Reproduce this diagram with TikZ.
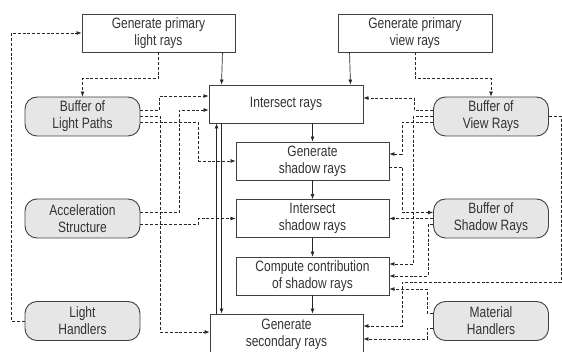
\documentclass[tikz,border=0pt]{standalone}
\usepackage{fontspec}
\setmainfont[FakeStretch=0.8]{Liberation Sans}
\usetikzlibrary{arrows.meta}

\definecolor{edgegray}{HTML}{404040}
\definecolor{buffill}{HTML}{E6E6E6}
\definecolor{txtgray}{HTML}{333333}

\begin{document}
\begin{tikzpicture}[x=1pt,y=-1pt,
    font=\fontsize{15}{17}\selectfont,
    stage/.style={draw=edgegray,line width=0.9pt,rectangle,minimum height=38pt,
        inner sep=0pt,align=center,text=txtgray},
    buffer/.style={draw=edgegray,line width=0.9pt,rounded corners=12pt,fill=buffill,
        minimum width=115pt,minimum height=39pt,inner sep=0pt,align=center,text=txtgray},
    sline/.style={draw=black!85,line width=0.7pt,-{Latex[length=5pt,width=4pt]}},
    dline/.style={draw=black!85,line width=0.7pt,dash pattern=on 3pt off 1.8pt,
        -{Latex[length=5pt,width=4pt]}}]

            \useasboundingbox (0,0) rectangle (562,352);

            % Verarbeitungsstufen (Mitte)
            \node[stage,minimum width=153pt] (genlight) at (158.5,33) {Generate primary\\light rays};
            \node[stage,minimum width=154pt] (genview) at (415,33) {Generate primary\\view rays};
            \node[stage,minimum width=154pt] (inter) at (286,104) {Intersect rays};
            \node[stage,minimum width=153pt] (genshadow) at (312.5,161) {Generate\\shadow rays};
            \node[stage,minimum width=153pt] (intershadow) at (312.5,218.5) {Intersect\\shadow rays};
            \node[stage,minimum width=153pt] (compute) at (312.5,276) {Compute contribution\\of shadow rays};
            \node[stage,minimum width=153pt,minimum height=40pt] (gensec) at (286.5,334) {Generate\\secondary rays};

            % Puffer und Daten (links / rechts)
            \node[buffer] (buflight) at (82.5,116.5) {Buffer of\\Light Paths};
            \node[buffer] (accel) at (82.5,218.5) {Acceleration\\Structure};
            \node[buffer] (lighth) at (82.5,321) {Light\\Handlers};
            \node[buffer] (bufview) at (491,116.5) {Buffer of\\View Rays};
            \node[buffer] (bufshadow) at (491,218.5) {Buffer of\\Shadow Rays};
            \node[buffer] (materialh) at (491,321) {Material\\Handlers};

            % Kontrollfluss
            \draw[sline] ([xshift=-13pt]genlight.south east) -- ([xshift=13pt]inter.north west);
            \draw[sline] ([xshift=12pt]genview.south west) -- ([xshift=-13pt]inter.north east);
            \draw[sline] (inter.south -| genshadow.north) -- (genshadow.north);
            \draw[sline] (genshadow.south) -- (intershadow.north);
            \draw[sline] (intershadow.south) -- (compute.north);
            \draw[sline] (compute.south) -- (compute.south |- gensec.north);
            \draw[sline] ([xshift=7pt]gensec.north west) -- ([xshift=8pt]inter.south west);
            \draw[sline] ([xshift=13pt]inter.south west) -- ([xshift=12pt]gensec.north west);

            % Datenfluss links
            \draw[dline] (genlight.south) -- ++(0,26) -| (buflight.north);
            \draw[dline] (lighth.west) -- ++(-13,0) |- (genlight.west);
            \draw[dline] ([yshift=6pt]buflight.east) -- ++(19,0) |- ([yshift=8pt]inter.west);
            \draw[dline] (buflight.east) -- ++(20,0) |- ([yshift=2pt]gensec.west);
            \draw[dline] ([yshift=-6pt]buflight.east) -- ++(58,0) |- (genshadow.west);
            \draw[dline] ([yshift=6pt]accel.east) -- ++(39,0) |- ([yshift=-6pt]inter.west);
            \draw[dline] ([yshift=-6pt]accel.east) -- ++(58,0) |- (intershadow.west);

            % Datenfluss rechts
            \draw[dline] (genview.south) -- ++(0,26) -| (bufview.north);
            \draw[dline] ([yshift=6pt]bufview.west) -- ++(-19,0) |- ([yshift=6pt]inter.east);
            \draw[dline] (bufview.west) -- ++(-20,0) |- ([yshift=12pt]compute.east);
            \draw[dline] ([yshift=-6pt]bufview.west) -- ++(-31,0) |- ([yshift=7pt]genshadow.east);
            \draw[dline] (bufview.east) -- ++(12,0) -- ++(0,166) -- ++(-159,0) |- ([yshift=8pt]gensec.east);
            \draw[dline] ([yshift=-6pt]genshadow.east) -- ++(13,0) |- ([yshift=6pt]bufshadow.west);
            \draw[dline] (bufshadow.west) -- (intershadow.east);
            \draw[dline] ([yshift=-6pt]bufshadow.west) -- ++(-5,0) |- (compute.east);
            \draw[dline] ([yshift=8pt]materialh.west) -- ++(-6,0) |- ([yshift=-13pt]compute.east);
            \draw[dline] ([yshift=-7pt]materialh.west) -- ++(-6,0) |- ([yshift=-5pt]gensec.east);

\end{tikzpicture}
\end{document}
